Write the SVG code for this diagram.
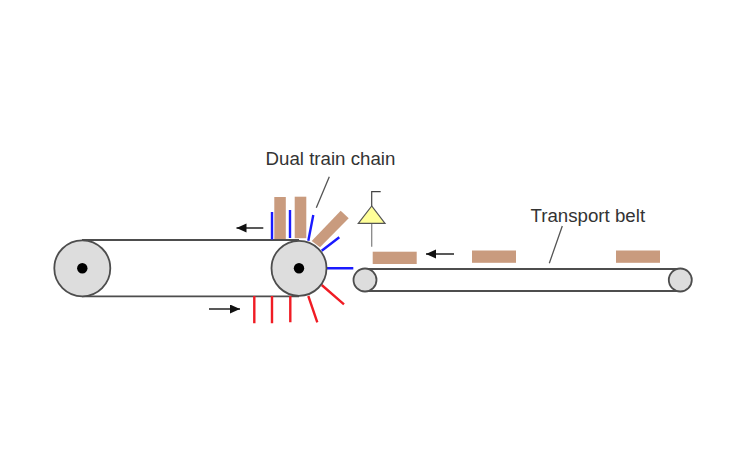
<svg xmlns="http://www.w3.org/2000/svg" width="755" height="472" viewBox="0 0 755 472">
<defs>
<style>
text{font-family:"Liberation Sans",Arial,sans-serif;font-size:18.700px;fill:#333}
.belt{fill:none;stroke:#4d4d4d;stroke-width:1.800}
.pulley{fill:#ddd;stroke:#4d4d4d;stroke-width:1.800}
.brick{fill:#c99b7e}
.blue{stroke:#1a1aff;stroke-width:2.400;fill:none}
.red{stroke:#f01c24;stroke-width:2.400;fill:none}
.lead{stroke:#555;stroke-width:1.300;fill:none}
.arr{stroke:#222;stroke-width:1.500;fill:none;marker-end:url(#ah)}
</style>
<marker id="ah" markerUnits="userSpaceOnUse" markerWidth="11" markerHeight="10" refX="10" refY="4.500" orient="auto"><path d="M0 0L10 4.500L0 9Z" fill="#111"/></marker>
</defs>
<rect width="755" height="472" fill="#fff"/>
<g id="connectors">
<path class="belt" d="M82 240H299M82 296.300H299"/>
<path class="belt" d="M365 269H680M365 291H680"/>
<path class="blue" d="M272 239.500V212M290 238V210M308.300 240.700L313.300 215M321.700 250.700L339.300 237.300M326 268.300H353.300"/>
<path class="red" d="M254.300 296V323.300M272 296V323.300M290.300 296V322.300M308.300 296L317.300 322.300M321.700 285L344 304.300"/>
<path class="lead" d="M329.300 176.700L316.300 207.700M562.300 226L549.300 263.300"/>
<path class="arr" d="M263.300 228H236.500"/>
<path class="arr" d="M209 309H240"/>
<path class="arr" d="M454 254H426"/>
</g>
<g id="bricks">
<rect class="brick" x="274.300" y="197" width="11.500" height="42"/>
<rect class="brick" x="294.700" y="196.700" width="11.600" height="41.500"/>
<path class="brick" d="M311.700 241L340.700 210.700L348.700 218.300L320 247.300Z"/>
<rect class="brick" x="372.700" y="251.700" width="44" height="12.300"/>
<rect class="brick" x="472" y="250.500" width="44" height="12.300"/>
<rect class="brick" x="616" y="250.500" width="44" height="12.300"/>
</g>
<g id="pulley-left"><circle class="pulley" cx="82.300" cy="268.300" r="28"/><circle cx="82.300" cy="268.300" r="5.200" fill="#000"/></g>
<g id="pulley-right"><circle class="pulley" cx="299" cy="268.300" r="27.500"/><circle cx="299" cy="268.300" r="5.200" fill="#000"/></g>
<g id="roller-left"><circle class="pulley" cx="365" cy="280" r="11.500"/></g>
<g id="roller-right"><circle class="pulley" cx="680.300" cy="280" r="11.500"/></g>
<g id="sensor">
<path d="M371.700 223.300V246.700" stroke="#888" stroke-width="1.300" fill="none"/>
<path d="M371.700 206V191.700H380.700" stroke="#444" stroke-width="1.200" fill="none"/>
<path d="M371.700 206L358.300 223.300H385Z" fill="#ffff99" stroke="#555" stroke-width="1.200"/>
</g>
<g id="label-chain"><text x="265.500" y="165">Dual train chain</text></g>
<g id="label-belt"><text x="530.500" y="221.500">Transport belt</text></g>
</svg>
